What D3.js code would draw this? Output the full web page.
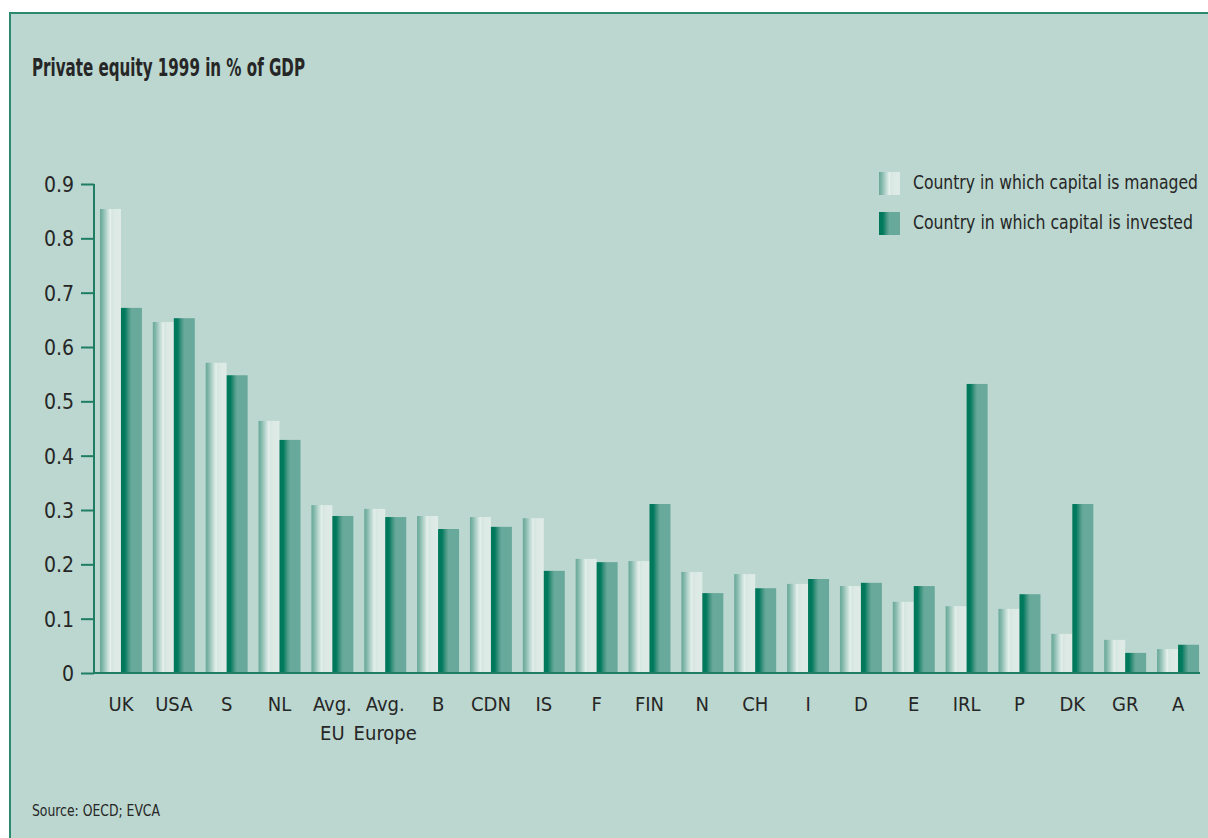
<!DOCTYPE html>
<html>
<head>
<meta charset="utf-8">
<script src="https://cdn.jsdelivr.net/npm/d3@7"></script>
<style>
  html, body { margin: 0; padding: 0; background: #ffffff; }
  svg { display: block; }
  text { font-family: "Liberation Sans Narrow", "DejaVu Sans Condensed", "Roboto", sans-serif; fill: #262626; }
</style>
</head>
<body>
<svg id="chart" width="1208" height="838"></svg>
<script>
// Private equity 1999 in % of GDP, by country
const countries = ["UK", "USA", "S", "NL", "Avg.\nEU", "Avg.\nEurope", "B", "CDN", "IS", "F", "FIN",
                   "N", "CH", "I", "D", "E", "IRL", "P", "DK", "GR", "A"];
const managed  = [0.854, 0.646, 0.571, 0.464, 0.309, 0.302, 0.289, 0.287, 0.285, 0.210, 0.206,
                  0.186, 0.182, 0.164, 0.160, 0.131, 0.123, 0.118, 0.072, 0.061, 0.044];
const invested = [0.672, 0.653, 0.548, 0.429, 0.289, 0.287, 0.265, 0.269, 0.188, 0.204, 0.311,
                  0.147, 0.156, 0.173, 0.166, 0.160, 0.532, 0.145, 0.311, 0.037, 0.052];
const seriesNames = ["Country in which capital is managed", "Country in which capital is invested"];
const yTicks = [0, 0.1, 0.2, 0.3, 0.4, 0.5, 0.6, 0.7, 0.8, 0.9];

const svg = d3.select("#chart");
const axisColor = "#1f7d63";

// panel background with border
svg.append("rect")
  .attr("x", 10).attr("y", 13).attr("width", 1210).attr("height", 840)
  .attr("fill", "#bbd7cf").attr("stroke", "#2b8a6d").attr("stroke-width", 2);

// gradients for the two series
const defs = svg.append("defs");
const gManaged = defs.append("linearGradient").attr("id", "gradManaged")
  .attr("x1", "0%").attr("x2", "100%").attr("y1", "0%").attr("y2", "0%");
[[0, "#67a898"], [0.12, "#7fb6a8"], [0.3, "#b2d3ca"], [0.45, "#d9e9e4"], [0.5, "#e6f0ed"],
 [0.56, "#d5e6e0"], [0.7, "#dde9e5"], [1, "#dfebe7"]]
  .forEach(([o, c]) => gManaged.append("stop").attr("offset", o).attr("stop-color", c));
const gInvested = defs.append("linearGradient").attr("id", "gradInvested")
  .attr("x1", "0%").attr("x2", "100%").attr("y1", "0%").attr("y2", "0%");
[[0, "#00775a"], [0.18, "#007a5e"], [0.38, "#4a9885"], [0.5, "#67a99a"], [1, "#68a99b"]]
  .forEach(([o, c]) => gInvested.append("stop").attr("offset", o).attr("stop-color", c));
const fills = ["url(#gradManaged)", "url(#gradInvested)"];

// scales
const y = d3.scaleLinear().domain([0, 0.9]).range([673, 184]);
const x = d3.scaleBand().domain(countries).range([94, 1205])
  .paddingInner(0.206).paddingOuter(0.113);
const xSub = d3.scaleBand().domain([0, 1]).range([0, x.bandwidth()]);

// bars
const groups = svg.append("g").selectAll("g")
  .data(countries).join("g")
  .attr("transform", d => `translate(${x(d)},0)`);
groups.selectAll("rect")
  .data((d, i) => [managed[i], invested[i]])
  .join("rect")
  .attr("x", (d, j) => xSub(j))
  .attr("width", xSub.bandwidth())
  .attr("y", d => y(d))
  .attr("height", d => y(0) - y(d))
  .attr("fill", (d, j) => fills[j]);

// y axis
const yAxis = svg.append("g").attr("transform", "translate(94,0)")
  .call(d3.axisLeft(y).tickValues(yTicks).tickSize(13).tickPadding(7)
    .tickFormat(d => d === 0 ? "0" : d3.format(".1f")(d)));
yAxis.select(".domain").attr("stroke", axisColor).attr("stroke-width", 2)
  .attr("d", `M0,${y(0.9)}V${y(0)}`);
yAxis.selectAll(".tick line").attr("stroke", axisColor).attr("stroke-width", 2);
yAxis.selectAll(".tick text").attr("font-size", 21).attr("dy", "0.36em")
  .style("font-family", "'Liberation Sans Narrow', 'DejaVu Sans Condensed', sans-serif")
  .attr("fill", "#262626");

// x baseline
svg.append("line")
  .attr("x1", 94).attr("x2", 1200).attr("y1", y(0)).attr("y2", y(0))
  .attr("stroke", axisColor).attr("stroke-width", 2);

// category labels (multi-line)
const xl = svg.append("g").selectAll("text").data(countries).join("text")
  .attr("text-anchor", "middle")
  .attr("font-size", 20)
  .attr("x", d => x(d) + x.bandwidth() / 2)
  .attr("y", 711);
xl.selectAll("tspan").data(d => d.split("\n")).join("tspan")
  .attr("x", function() { return this.parentNode.getAttribute("x"); })
  .attr("dy", (d, i) => i === 0 ? 0 : 29)
  .text(d => d);

// title
svg.append("text").attr("x", 32).attr("y", 76)
  .attr("font-size", 24).attr("font-weight", "bold")
  .attr("textLength", 273).attr("lengthAdjust", "spacingAndGlyphs")
  .text("Private equity 1999 in % of GDP");

// legend
const legend = svg.append("g");
seriesNames.forEach((name, i) => {
  const top = 172 + i * 40;
  legend.append("rect").attr("x", 879).attr("y", top).attr("width", 21).attr("height", 23)
    .attr("fill", fills[i]);
  legend.append("text").attr("x", 913).attr("y", top + 17)
    .attr("font-size", 20)
    .attr("textLength", i === 0 ? 285 : 280).attr("lengthAdjust", "spacingAndGlyphs")
    .text(name);
});

// source note
svg.append("text").attr("x", 32).attr("y", 816)
  .attr("font-size", 16)
  .attr("textLength", 128).attr("lengthAdjust", "spacingAndGlyphs")
  .text("Source:  OECD; EVCA");
</script>
</body>
</html>
